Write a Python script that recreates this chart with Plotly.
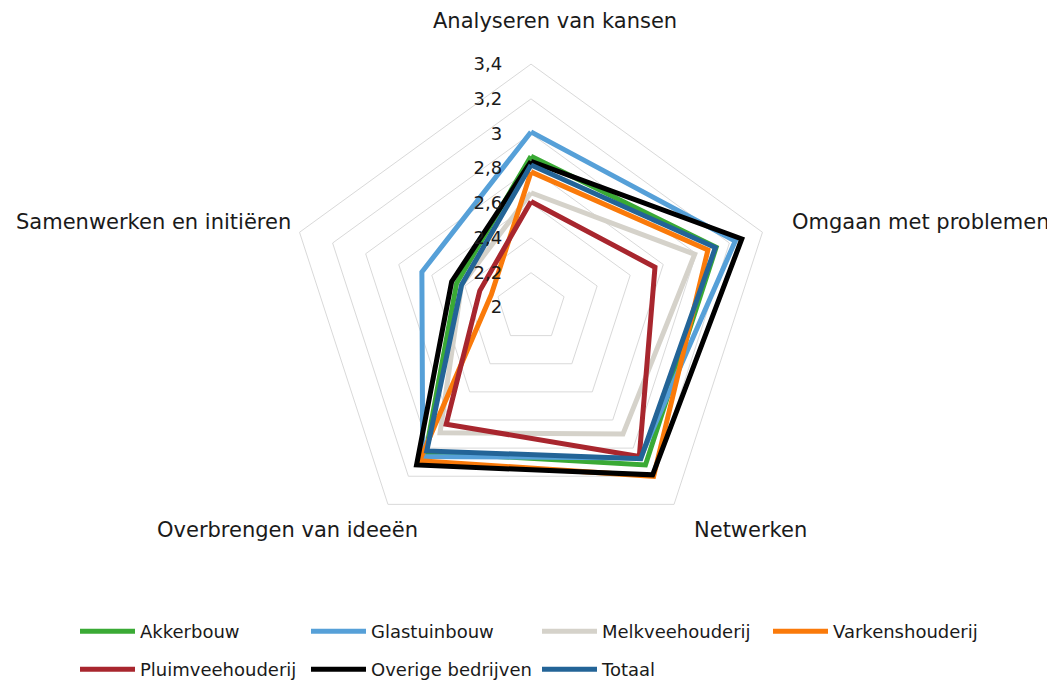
import plotly.graph_objects as go

categories = ["Analyseren van kansen", "Omgaan met problemen", "Netwerken",
              "Overbrengen van ideeën", "Samenwerken en initiëren"]

akkerbouw = [2.87, 3.12, 3.12, 3.03, 2.45]
glastuinbouw = [3.01, 3.235, 3.07, 3.06, 2.66]
melkveehouderij = [2.66, 2.99, 2.90, 2.89, 2.42]
varkenshouderij = [2.78, 3.07, 3.20, 3.09, 2.24]
pluimveehouderij = [2.61, 2.75, 3.06, 2.83, 2.31]
overige = [2.84, 3.275, 3.19, 3.12, 2.48]
totaal = [2.82, 3.115, 3.075, 3.02, 2.42]

radial_ticks = [2, 2.2, 2.4, 2.6, 2.8, 3, 3.2, 3.4]

series = [
    ("Akkerbouw", akkerbouw, "#3AAA35", "legend"),
    ("Glastuinbouw", glastuinbouw, "#56A0D8", "legend"),
    ("Melkveehouderij", melkveehouderij, "#D5D2CA", "legend"),
    ("Varkenshouderij", varkenshouderij, "#FA7A0A", "legend"),
    ("Pluimveehouderij", pluimveehouderij, "#A8262E", "legend2"),
    ("Overige bedrijven", overige, "#000000", "legend2"),
    ("Totaal", totaal, "#236497", "legend2"),
]

FONT = "DejaVu Sans"
W, H = 1055, 680
OX, OY, SY = 8, 8, 0.986   # page offset / vertical scale of the photographed page


def fx(px):
    return (px - OX) / W


def fy(py):
    return 1 - ((py - OY) / SY) / H


cx, cy, R = 531 - OX, (307.7 - OY) / SY, 247

fig = go.Figure()
for name, vals, color, lg in series:
    fig.add_trace(go.Scatterpolar(
        r=vals + vals[:1], theta=categories + categories[:1],
        mode="lines", name=name, legend=lg,
        line=dict(color=color, width=5, shape="linear"),
        hoverinfo="skip"))

legend_common = dict(orientation="h", xanchor="left", yanchor="middle",
                     entrywidth=161, entrywidthmode="pixels", itemwidth=55,
                     font=dict(family=FONT, size=18, color="#1a1a1a"),
                     bgcolor="rgba(0,0,0,0)")

fig.update_layout(
    width=W, height=H,
    margin=dict(l=0, r=0, t=0, b=0),
    paper_bgcolor="white",
    separators=",.",
    font=dict(family=FONT, size=18, color="#1a1a1a"),
    polar=dict(
        domain=dict(x=[(cx - R) / W, (cx + R) / W], y=[1 - (cy + R) / H, 1 - (cy - R) / H]),
        bgcolor="white",
        gridshape="linear",
        radialaxis=dict(range=[2, 3.4], tickvals=radial_ticks, angle=90, tickangle=90,
                        showline=False, ticks="outside", ticklen=22,
                        tickcolor="rgba(0,0,0,0)", gridcolor="#D9D9D9", gridwidth=1,
                        side="counterclockwise",
                        tickfont=dict(family=FONT, size=18, color="#1a1a1a")),
        angularaxis=dict(direction="clockwise", rotation=90, showgrid=False,
                         showticklabels=False, ticks="", showline=True,
                         linecolor="#D9D9D9", linewidth=1),
    ),
    legend=dict(x=fx(140 - 65), y=fy(632), **legend_common),
    legend2=dict(x=fx(140 - 65), y=fy(670), **legend_common),
    showlegend=True,
)

label_pos = [
    (categories[0], 555, 21, "center"),
    (categories[1], 790, 222, "left"),
    (categories[2], 692, 530, "left"),
    (categories[3], 420, 530, "right"),
    (categories[4], 293, 222, "right"),
]
for text, x, y, anchor in label_pos:
    fig.add_annotation(text=text, x=fx(x), y=fy(y), xref="paper", yref="paper",
                       xanchor=anchor, yanchor="middle", showarrow=False,
                       font=dict(family=FONT, size=21, color="#1a1a1a"))

fig.write_html("out.html")
